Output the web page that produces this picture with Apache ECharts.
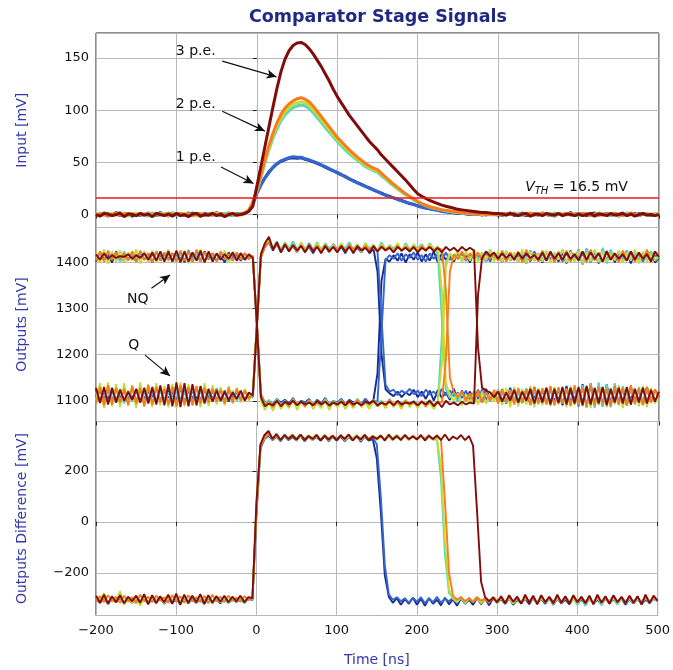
<!DOCTYPE html>
<html>
<head>
<meta charset="utf-8">
<title>Comparator Stage Signals</title>
<script src="https://cdn.jsdelivr.net/npm/echarts@6/dist/echarts.min.js"></script>
<style>
html, body { margin: 0; padding: 0; background: #fff; }
#chart { width: 673px; height: 670px; }
</style>
</head>
<body>
<div id="chart"></div>
<script>
// sample grid: -200 .. 500 ns every 5 ns (141 samples), one row = 100 ns
const T_START = -200, T_END = 500, T_STEP = 5;

// ---- input [mV] ----
// 1 p.e. (dark blue, blue)
const in1a = [
  0.5, -1, 1.5, 0, -0.5, 2, -1, 0.5, 1, -1.5, 0, 1, -0.5, 1.5, -1, 0, 2, -0.5, 0.5, -1,
  1, -0.5, 0, 1.5, -1, 0.5, -1.5, 1, 0, -0.5, 2, -1, 0.5, 0, -1, 1, 0.5, 1.5, 4, 11,
  21, 29, 35, 41, 45, 48.5, 51, 52.5, 54, 54.5, 54, 54.5, 53, 52, 50.5, 49, 47.5, 45.5, 43.5, 42,
  40, 38, 36.5, 34, 32.5, 30.5, 29, 27, 25.5, 23.5, 22, 20.5, 18.5, 17.5, 16, 14.5, 13.5, 12, 10.5, 9.5,
  8.5, 7.5, 6.5, 5.5, 5, 4, 3.5, 3, 2, 2, 1.5, 1, 1, 0.5, 0, 1, -0.5, 0.5, 0, 0.5,
  -0.5, 1, 0, 1.5, -1, 0.5, 0, -1, 1, 0.5, -0.5, 1.5, 0, -1, 0.5, 1, -0.5, 0, 2, -1,
  0, 1, -1, 0.5, 1.5, -0.5, 0, 1, -1, 0.5, 0, 1.5, -0.5, 0, 1, -1, 0.5, 0, -1, 0.5,
  0
];
const in1b = [
  -0.5, 1, 0, -1.5, 1, 0.5, -1, 1.5, -0.5, 0, 1, -1, 0.5, -0.5, 1.5, -1, 0, 1, -1.5, 0.5,
  0.5, 1, -1, 0, 1.5, -0.5, 0.5, -1, 1, 0, -0.5, 1, 0, 1.5, -1, 0.5, 0, 1, 3.5, 10,
  20, 28, 35, 40, 45.5, 49, 51.5, 53, 54.5, 55.5, 55, 55, 53.5, 52.5, 51, 49.5, 47.5, 46, 44, 42,
  40.5, 38.5, 36, 34.5, 32, 30.5, 28.5, 27, 25, 24, 22, 20, 19, 17, 16, 15, 13, 12, 11, 10,
  8, 7, 6, 5.5, 4.5, 4, 3, 2.5, 2.5, 1.5, 1, 1.5, 0.5, 0, 1, 0, 0.5, -0.5, 1, 0,
  0.5, -1, 1, 0, 0.5, -0.5, 1.5, 0, -1, 0.5, 1, -0.5, 0, 1, -1.5, 0.5, 0, 1, -0.5, 0.5,
  1, -0.5, 0.5, 0, -1, 1, 0.5, -0.5, 1, 0, -1.5, 0.5, 1, 0, -0.5, 1, 0, 0.5, -1, 0,
  0.5
];
// 2 p.e. (cyan, yellow-green, orange)
const in2a = [
  1, -0.5, 0, 1.5, -1, 0, 2, -0.5, 0.5, 1, -1, 0.5, 0, -1.5, 1, 0.5, -0.5, 1, 0, 2,
  -1, 0.5, 1, 0, -0.5, 1.5, 0, -1, 0.5, 1, 0, -0.5, 1, 0.5, -1, 0, 1, 1, 3.5, 11,
  22, 35, 49, 62, 73, 82, 90, 95.5, 99.5, 102.5, 104, 105, 104, 101.5, 97.5, 93, 88.5, 83.5, 79, 74.5,
  70, 66, 62, 58.5, 55, 52, 49, 46, 44, 42, 40.5, 37, 34, 30.5, 27.5, 24.5, 21.5, 19, 16.5, 14,
  12, 10, 8.5, 7, 6, 5, 4.5, 3.5, 3, 2.5, 2, 1.5, 2, 1, 0.5, 1, 0, 0.5, 1, -0.5,
  0, 1, -0.5, 0.5, 1.5, 0, -1, 0.5, 1, -0.5, 0, 1, 0.5, -1, 1.5, 0, 0.5, -0.5, 1, 0,
  -1, 0.5, 1, 0, -0.5, 1.5, 0, 0.5, -1, 1, 0, -0.5, 1.5, 0.5, 0, -1, 1, 0.5, -0.5, 1,
  0
];
const in2b = [
  0, 1.5, -1, 0.5, 1, -0.5, 0, 1, -1.5, 0.5, 1, 0, -1, 1.5, 0, -0.5, 1, 0.5, -1, 0,
  0.5, -1, 1, 0.5, 0, -1.5, 1, 0, 0.5, -0.5, 1.5, 0, -1, 1, 0, 0.5, -0.5, 1, 4, 11.5,
  23, 36.5, 51, 64, 75.5, 85, 92.5, 98.5, 102.5, 105.5, 107, 108, 107, 104.5, 100.5, 96, 91, 86, 81.5, 76.5,
  72, 68, 64, 60, 56.5, 53.5, 50.5, 47.5, 45, 43, 41.5, 38.5, 35, 31.5, 28, 25, 22, 19.5, 17, 14.5,
  12.5, 10.5, 9, 7.5, 6.5, 5.5, 4.5, 4, 3, 2.5, 2.5, 1.5, 1.5, 1, 0.5, 1, 0, 0.5, -0.5, 0.5,
  1, 0, -0.5, 1, 0.5, -1, 0, 1.5, 0, -0.5, 1, 0, 0.5, 1, -1, 0.5, 0, 1, -0.5, 0,
  0.5, 0, 1, -1, 0.5, 0, 1, -0.5, 0.5, 1.5, -1, 0, 0.5, 1, -0.5, 0, 1, -1, 0.5, 0,
  1
];
const in2c = [
  -0.5, 0.5, 1, -1, 0, 1.5, -0.5, 0, 1, 0.5, -1, 1, 0, 0.5, -1, 1, 0, -0.5, 1.5, 0,
  0, 1, -0.5, 0.5, -1, 1, 0.5, 0, -1, 1.5, 0, 0.5, -0.5, 0, 1, -1, 0.5, 1.5, 4, 12,
  24, 38, 53, 66, 78, 88, 96, 102, 106, 109, 111, 112, 110.5, 108, 104, 99, 94, 89, 84, 79,
  74, 70, 66, 62, 58.5, 55, 52, 49, 46.5, 44.5, 43, 39.5, 36, 32.5, 29, 26, 23, 20, 17.5, 15,
  12.5, 10.5, 9, 7.5, 6.5, 5.5, 4.5, 4, 3.5, 3, 2.5, 2, 1.5, 1.5, 1, 0.5, 1, 0, 0.5, 0,
  0.5, -0.5, 1, 0, 1, -1, 0.5, 0, 1.5, 0, -0.5, 1, 0.5, 0, -1, 1, 0, 0.5, 1, -0.5,
  0, 1, 0.5, -1, 0, 1, -0.5, 0.5, 0, 1, 0.5, -1, 0, 1.5, 0, -0.5, 1, 0, 0.5, -1,
  0.5
];
// 3 p.e. (dark red)
const in3 = [
  0, -1.5, 1, 0.5, -1, 0, 1.5, -2, 0.5, 0, -1, 1, -0.5, 0.5, -2, 1, 0, -1, 0.5, -1.5,
  1, -1, 0, -2, 0.5, 1, -1.5, 0, -0.5, 1, -1, 0.5, -2, 0, 1, -0.5, 0, 1, 3, 8,
  27, 46, 65, 84, 103, 121, 137, 149, 157, 162, 164.5, 165, 163, 159, 154, 148, 142, 135, 128, 120,
  113, 107, 101, 95, 90, 85, 80, 75, 70, 66, 62, 57, 53, 49, 45, 41, 37, 33, 28.5, 24,
  20, 17.5, 15.5, 13.5, 12, 10.5, 9, 8, 7, 6, 5, 4.5, 4, 3.5, 3, 2.5, 2, 2, 1.5, 1,
  1, 0.5, -0.5, 1, 0, -1, 0.5, 1, -1.5, 0, 0.5, -1, 1, 0, -0.5, 1, -1, 0.5, 0, -1,
  0.5, -1, 0, 1, -1.5, 0.5, 0, -1, 1, -0.5, 0, 1, -1, 0.5, -1.5, 0, 1, -0.5, 0, -1,
  0
];

// ---- outputs Q / NQ [mV] ----
const qD = [
  1126, 1098, 1122, 1102, 1128, 1096, 1124, 1100, 1120, 1104, 1126, 1098, 1122, 1102, 1124, 1096, 1128, 1100, 1122, 1104,
  1126, 1100, 1122, 1096, 1124, 1102, 1128, 1098, 1120, 1104, 1126, 1100, 1122, 1098, 1118, 1104, 1120, 1102, 1116, 1108,
  1262, 1412, 1434, 1444, 1426, 1440, 1422, 1438, 1426, 1436, 1422, 1440, 1424, 1434, 1420, 1438, 1424, 1436, 1422, 1438,
  1424, 1434, 1420, 1438, 1424, 1432, 1422, 1436, 1420, 1430, 1380, 1200, 1125, 1116, 1110, 1120, 1108, 1118, 1112, 1124,
  1108, 1120, 1104, 1122, 1100, 1124, 1106, 1118, 1102, 1126, 1098, 1122, 1104, 1120, 1100, 1124, 1096, 1126, 1102, 1120,
  1098, 1124, 1094, 1128, 1100, 1122, 1096, 1126, 1092, 1130, 1098, 1124, 1094, 1128, 1096, 1126, 1090, 1132, 1094, 1128,
  1088, 1136, 1086, 1138, 1090, 1134, 1088, 1136, 1092, 1130, 1094, 1128, 1090, 1132, 1096, 1126, 1092, 1130, 1098, 1124,
  1108
];
const nqD = [
  1402, 1422, 1406, 1418, 1400, 1424, 1404, 1420, 1408, 1416, 1402, 1422, 1406, 1420, 1400, 1424, 1404, 1418, 1408, 1420,
  1404, 1422, 1400, 1426, 1406, 1418, 1402, 1424, 1408, 1420, 1404, 1416, 1400, 1422, 1406, 1418, 1404, 1420, 1408, 1414,
  1266, 1114, 1096, 1100, 1092, 1104, 1096, 1102, 1094, 1106, 1092, 1100, 1096, 1104, 1090, 1102, 1094, 1106, 1092, 1100,
  1096, 1104, 1092, 1102, 1096, 1100, 1090, 1104, 1094, 1102, 1160, 1360, 1408, 1402, 1416, 1404, 1420, 1400, 1418, 1406,
  1422, 1402, 1418, 1404, 1424, 1400, 1420, 1406, 1416, 1402, 1422, 1404, 1418, 1400, 1424, 1406, 1420, 1402, 1416, 1408,
  1420, 1400, 1424, 1404, 1418, 1402, 1422, 1398, 1426, 1404, 1420, 1400, 1424, 1406, 1418, 1402, 1422, 1398, 1426, 1404,
  1428, 1396, 1430, 1400, 1424, 1398, 1428, 1402, 1426, 1400, 1422, 1404, 1426, 1398, 1424, 1402, 1420, 1406, 1424, 1400,
  1410
];
const qB = [
  1110, 1120, 1104, 1124, 1100, 1126, 1106, 1122, 1102, 1128, 1098, 1124, 1104, 1120, 1108, 1126, 1100, 1122, 1106, 1118,
  1102, 1126, 1098, 1122, 1104, 1128, 1100, 1124, 1106, 1120, 1102, 1126, 1098, 1122, 1106, 1118, 1104, 1122, 1108, 1116,
  1264, 1414, 1436, 1446, 1430, 1442, 1426, 1440, 1424, 1444, 1428, 1438, 1424, 1442, 1426, 1440, 1428, 1436, 1424, 1440,
  1428, 1436, 1426, 1440, 1424, 1438, 1428, 1436, 1426, 1432, 1424, 1280, 1135, 1120, 1124, 1112, 1122, 1116, 1126, 1114,
  1122, 1110, 1124, 1114, 1120, 1108, 1126, 1112, 1122, 1110, 1118, 1106, 1122, 1100, 1120, 1104, 1124, 1102, 1118, 1106,
  1124, 1100, 1120, 1104, 1126, 1098, 1122, 1102, 1118, 1106, 1124, 1100, 1128, 1096, 1122, 1102, 1126, 1098, 1120, 1104,
  1126, 1096, 1130, 1094, 1124, 1100, 1128, 1096, 1122, 1102, 1126, 1098, 1120, 1104, 1124, 1100, 1128, 1096, 1122, 1102,
  1110
];
const nqB = [
  1416, 1406, 1420, 1404, 1418, 1408, 1414, 1402, 1420, 1406, 1416, 1410, 1422, 1404, 1418, 1406, 1414, 1408, 1420, 1404,
  1418, 1408, 1422, 1402, 1416, 1406, 1420, 1404, 1414, 1410, 1418, 1406, 1422, 1404, 1416, 1408, 1420, 1406, 1414, 1410,
  1270, 1110, 1092, 1100, 1090, 1102, 1094, 1098, 1090, 1104, 1092, 1100, 1096, 1098, 1090, 1102, 1094, 1100, 1092, 1098,
  1094, 1102, 1090, 1100, 1092, 1098, 1094, 1104, 1090, 1100, 1098, 1250, 1405, 1416, 1408, 1420, 1404, 1418, 1410, 1422,
  1406, 1416, 1402, 1420, 1408, 1418, 1404, 1422, 1406, 1416, 1408, 1420, 1404, 1418, 1410, 1414, 1406, 1422, 1402, 1418,
  1408, 1420, 1404, 1422, 1406, 1416, 1410, 1418, 1402, 1424, 1406, 1420, 1404, 1418, 1408, 1422, 1402, 1420, 1406, 1416,
  1410, 1418, 1404, 1422, 1408, 1420, 1402, 1424, 1406, 1418, 1410, 1416, 1404, 1422, 1408, 1418, 1402, 1420, 1406, 1416,
  1412
];
const qC = [
  1118, 1100, 1124, 1096, 1120, 1102, 1126, 1094, 1122, 1098, 1124, 1100, 1120, 1096, 1126, 1098, 1122, 1100, 1118, 1104,
  1124, 1098, 1120, 1102, 1126, 1096, 1122, 1100, 1118, 1104, 1124, 1098, 1120, 1102, 1122, 1100, 1118, 1104, 1114, 1110,
  1266, 1416, 1438, 1450, 1432, 1446, 1428, 1444, 1430, 1446, 1426, 1442, 1430, 1440, 1428, 1444, 1426, 1442, 1430, 1438,
  1426, 1440, 1430, 1444, 1428, 1440, 1424, 1442, 1430, 1438, 1426, 1444, 1428, 1438, 1430, 1440, 1424, 1442, 1428, 1438,
  1430, 1440, 1426, 1442, 1428, 1420, 1280, 1125, 1106, 1118, 1098, 1120, 1100, 1116, 1096, 1118, 1102, 1120, 1098, 1116,
  1100, 1120, 1096, 1124, 1102, 1118, 1094, 1126, 1098, 1122, 1092, 1128, 1096, 1124, 1090, 1130, 1094, 1126, 1092, 1128,
  1090, 1134, 1086, 1138, 1084, 1140, 1088, 1136, 1086, 1138, 1090, 1132, 1094, 1128, 1092, 1130, 1096, 1124, 1098, 1122,
  1104
];
const nqC = [
  1410, 1418, 1404, 1422, 1408, 1420, 1402, 1424, 1406, 1418, 1404, 1422, 1408, 1416, 1402, 1424, 1406, 1420, 1404, 1418,
  1408, 1420, 1404, 1424, 1406, 1418, 1402, 1422, 1408, 1416, 1404, 1420, 1406, 1418, 1404, 1422, 1408, 1416, 1410, 1414,
  1268, 1112, 1094, 1102, 1088, 1104, 1092, 1100, 1090, 1104, 1094, 1098, 1090, 1102, 1094, 1100, 1088, 1104, 1092, 1100,
  1094, 1102, 1090, 1100, 1094, 1104, 1092, 1098, 1090, 1102, 1094, 1100, 1088, 1104, 1092, 1098, 1094, 1102, 1090, 1100,
  1092, 1098, 1094, 1102, 1090, 1098, 1240, 1400, 1418, 1408, 1424, 1404, 1420, 1410, 1426, 1406, 1422, 1402, 1428, 1408,
  1420, 1404, 1424, 1408, 1418, 1402, 1422, 1406, 1426, 1404, 1420, 1408, 1424, 1402, 1418, 1406, 1428, 1400, 1422, 1406,
  1428, 1398, 1430, 1400, 1426, 1402, 1432, 1398, 1428, 1404, 1424, 1400, 1426, 1406, 1422, 1402, 1420, 1408, 1424, 1404,
  1412
];
const qY = [
  1100, 1138, 1084, 1140, 1088, 1136, 1086, 1138, 1090, 1134, 1084, 1140, 1088, 1136, 1086, 1138, 1090, 1132, 1086, 1136,
  1084, 1140, 1088, 1136, 1090, 1132, 1086, 1138, 1088, 1134, 1092, 1130, 1090, 1132, 1094, 1128, 1096, 1126, 1100, 1120,
  1270, 1420, 1440, 1448, 1428, 1444, 1424, 1442, 1426, 1440, 1422, 1444, 1426, 1438, 1424, 1442, 1426, 1440, 1422, 1438,
  1426, 1442, 1424, 1438, 1428, 1440, 1422, 1442, 1426, 1438, 1424, 1440, 1428, 1436, 1424, 1442, 1426, 1438, 1422, 1440,
  1426, 1438, 1424, 1440, 1428, 1436, 1340, 1140, 1112, 1100, 1116, 1090, 1114, 1096, 1118, 1092, 1120, 1094, 1116, 1098,
  1124, 1090, 1128, 1086, 1130, 1088, 1126, 1092, 1132, 1086, 1128, 1090, 1126, 1088, 1130, 1092, 1124, 1086, 1132, 1090,
  1128, 1088, 1132, 1084, 1126, 1090, 1130, 1086, 1128, 1092, 1134, 1084, 1128, 1090, 1126, 1088, 1132, 1086, 1128, 1094,
  1118
];
const nqY = [
  1420, 1400, 1428, 1398, 1424, 1402, 1426, 1400, 1422, 1404, 1428, 1398, 1424, 1402, 1426, 1400, 1422, 1406, 1428, 1400,
  1424, 1402, 1426, 1398, 1422, 1404, 1428, 1400, 1424, 1402, 1420, 1406, 1426, 1400, 1424, 1404, 1420, 1406, 1418, 1410,
  1262, 1100, 1080, 1096, 1078, 1100, 1082, 1098, 1084, 1102, 1080, 1098, 1086, 1100, 1082, 1096, 1084, 1102, 1080, 1098,
  1086, 1100, 1082, 1098, 1084, 1102, 1086, 1096, 1082, 1100, 1088, 1098, 1084, 1100, 1086, 1096, 1082, 1102, 1086, 1098,
  1084, 1100, 1086, 1096, 1082, 1100, 1180, 1390, 1420, 1406, 1426, 1402, 1424, 1404, 1428, 1400, 1422, 1406, 1426, 1402,
  1424, 1400, 1426, 1404, 1422, 1402, 1428, 1398, 1424, 1404, 1420, 1402, 1426, 1400, 1422, 1406, 1428, 1400, 1424, 1402,
  1426, 1398, 1422, 1404, 1428, 1400, 1424, 1402, 1420, 1406, 1426, 1400, 1422, 1404, 1428, 1398, 1424, 1402, 1420, 1406,
  1416
];
const qO = [
  1094, 1130, 1090, 1134, 1092, 1128, 1096, 1126, 1090, 1132, 1094, 1128, 1088, 1134, 1092, 1130, 1096, 1126, 1092, 1130,
  1088, 1134, 1092, 1130, 1090, 1132, 1094, 1128, 1096, 1126, 1098, 1124, 1094, 1128, 1096, 1126, 1100, 1122, 1104, 1114,
  1258, 1410, 1436, 1444, 1430, 1440, 1426, 1438, 1428, 1436, 1424, 1438, 1426, 1434, 1428, 1436, 1424, 1438, 1426, 1434,
  1428, 1436, 1424, 1438, 1428, 1434, 1426, 1436, 1428, 1432, 1424, 1436, 1428, 1434, 1424, 1436, 1426, 1434, 1428, 1432,
  1424, 1436, 1428, 1434, 1426, 1432, 1428, 1340, 1150, 1118, 1108, 1120, 1100, 1116, 1098, 1122, 1096, 1118, 1100, 1124,
  1094, 1126, 1098, 1122, 1092, 1128, 1096, 1124, 1090, 1130, 1094, 1126, 1092, 1132, 1090, 1128, 1094, 1126, 1088, 1134,
  1092, 1128, 1088, 1134, 1090, 1130, 1094, 1126, 1088, 1132, 1092, 1128, 1090, 1134, 1094, 1126, 1090, 1130, 1096, 1124,
  1106
];
const nqO = [
  1404, 1424, 1402, 1426, 1406, 1422, 1408, 1420, 1404, 1424, 1402, 1426, 1406, 1420, 1400, 1424, 1404, 1422, 1406, 1420,
  1402, 1426, 1404, 1424, 1400, 1428, 1404, 1422, 1406, 1420, 1402, 1424, 1408, 1418, 1404, 1422, 1406, 1420, 1408, 1414,
  1272, 1115, 1090, 1098, 1086, 1100, 1090, 1096, 1088, 1102, 1092, 1098, 1088, 1100, 1090, 1096, 1092, 1100, 1088, 1098,
  1090, 1100, 1092, 1096, 1088, 1102, 1090, 1098, 1092, 1100, 1088, 1096, 1090, 1102, 1092, 1098, 1088, 1100, 1092, 1096,
  1090, 1100, 1088, 1098, 1092, 1096, 1096, 1190, 1380, 1418, 1408, 1424, 1406, 1420, 1410, 1422, 1404, 1424, 1408, 1420,
  1404, 1426, 1402, 1422, 1406, 1424, 1400, 1428, 1404, 1420, 1402, 1426, 1406, 1422, 1400, 1424, 1404, 1426, 1402, 1420,
  1406, 1424, 1400, 1428, 1404, 1422, 1402, 1426, 1406, 1420, 1400, 1426, 1404, 1424, 1402, 1422, 1406, 1428, 1400, 1424,
  1414
];
const qR = [
  1128, 1095, 1130, 1092, 1126, 1098, 1124, 1100, 1120, 1102, 1125, 1096, 1128, 1094, 1130, 1092, 1133, 1090, 1136, 1088,
  1140, 1086, 1138, 1088, 1136, 1090, 1132, 1094, 1126, 1098, 1122, 1100, 1120, 1102, 1118, 1104, 1122, 1100, 1118, 1112,
  1262, 1418, 1442, 1456, 1428, 1444, 1422, 1440, 1424, 1438, 1426, 1436, 1422, 1438, 1424, 1434, 1420, 1436, 1424, 1434,
  1422, 1436, 1424, 1434, 1420, 1436, 1426, 1432, 1422, 1436, 1424, 1434, 1426, 1432, 1422, 1434, 1426, 1432, 1424, 1434,
  1422, 1432, 1426, 1434, 1424, 1432, 1422, 1434, 1426, 1432, 1424, 1434, 1426, 1432, 1426, 1215, 1128, 1122, 1118, 1108,
  1120, 1098, 1118, 1100, 1124, 1096, 1120, 1100, 1126, 1094, 1124, 1096, 1128, 1092, 1126, 1095, 1130, 1092, 1128, 1094,
  1130, 1090, 1132, 1092, 1128, 1094, 1130, 1090, 1126, 1096, 1128, 1094, 1130, 1092, 1126, 1096, 1128, 1094, 1124, 1098,
  1120
];
const nqR = [
  1418, 1406, 1420, 1408, 1416, 1410, 1414, 1412, 1418, 1408, 1416, 1410, 1420, 1406, 1422, 1404, 1424, 1402, 1424, 1402,
  1426, 1400, 1424, 1402, 1422, 1404, 1426, 1400, 1424, 1402, 1420, 1406, 1418, 1408, 1422, 1404, 1420, 1406, 1418, 1410,
  1265, 1108, 1088, 1094, 1090, 1100, 1088, 1098, 1092, 1100, 1090, 1098, 1092, 1096, 1090, 1100, 1092, 1098, 1090, 1096,
  1092, 1098, 1090, 1100, 1092, 1096, 1090, 1098, 1094, 1100, 1090, 1096, 1092, 1098, 1090, 1100, 1092, 1096, 1094, 1098,
  1090, 1098, 1092, 1100, 1088, 1098, 1086, 1100, 1092, 1096, 1090, 1098, 1092, 1096, 1094, 1330, 1410, 1424, 1414, 1422,
  1408, 1420, 1410, 1418, 1406, 1422, 1408, 1420, 1410, 1416, 1406, 1422, 1404, 1424, 1408, 1420, 1406, 1422, 1408, 1418,
  1404, 1424, 1406, 1422, 1408, 1420, 1402, 1424, 1406, 1420, 1408, 1418, 1404, 1424, 1406, 1422, 1408, 1418, 1402, 1424,
  1412
];

// ---- outputs difference [mV] ----
const dD = [
  -306, -318, -300, -322, -304, -316, -298, -320, -302, -318, -306, -314, -300, -320, -304, -316, -298, -322, -302, -318,
  -304, -320, -300, -316, -306, -318, -302, -322, -298, -316, -304, -320, -300, -318, -306, -314, -302, -318, -300, -308,
  30, 290, 326, 340, 322, 336, 318, 338, 322, 334, 320, 338, 318, 336, 322, 334, 320, 338, 318, 336,
  320, 336, 318, 334, 322, 338, 316, 336, 320, 326, 250, 40, -210, -295, -318, -300, -326, -304, -322, -298,
  -326, -302, -330, -300, -322, -306, -328, -298, -324, -304, -330, -300, -322, -306, -326, -298, -324, -302, -328, -300,
  -318, -304, -322, -300, -326, -306, -320, -302, -324, -298, -318, -304, -322, -300, -326, -302, -320, -306, -324, -300,
  -322, -304, -326, -300, -320, -306, -324, -302, -318, -304, -322, -300, -326, -304, -320, -302, -324, -306, -318, -302,
  -312
];
const dB = [
  -300, -312, -296, -316, -302, -310, -298, -318, -300, -314, -296, -312, -302, -316, -298, -310, -300, -318, -296, -312,
  -298, -316, -302, -312, -296, -318, -300, -310, -298, -316, -302, -314, -296, -312, -300, -316, -298, -310, -302, -304,
  50, 296, 328, 344, 326, 338, 322, 340, 324, 336, 326, 342, 320, 338, 324, 340, 322, 336, 326, 338,
  322, 340, 324, 336, 326, 338, 320, 342, 324, 332, 305, 100, -170, -285, -306, -296, -312, -300, -318, -298,
  -314, -296, -320, -300, -316, -294, -318, -302, -312, -298, -320, -296, -316, -300, -314, -298, -318, -302, -312, -300,
  -316, -298, -320, -302, -314, -296, -318, -300, -312, -298, -316, -302, -320, -296, -314, -300, -318, -298, -312, -302,
  -318, -296, -314, -300, -320, -298, -316, -302, -312, -296, -318, -300, -314, -298, -320, -302, -316, -296, -314, -300,
  -308
];
const dC = [
  -304, -318, -298, -320, -302, -316, -296, -322, -300, -318, -304, -314, -298, -320, -302, -316, -296, -318, -300, -314,
  -302, -316, -298, -320, -304, -314, -300, -318, -296, -322, -302, -316, -298, -318, -304, -312, -300, -316, -302, -306,
  60, 298, 330, 346, 328, 340, 322, 344, 326, 338, 330, 342, 324, 340, 328, 336, 326, 342, 322, 338,
  328, 342, 324, 338, 330, 340, 322, 344, 326, 338, 328, 340, 324, 336, 330, 342, 326, 338, 322, 340,
  326, 338, 328, 342, 324, 325, 170, -130, -280, -300, -316, -298, -320, -302, -314, -296, -318, -304, -312, -300,
  -320, -300, -316, -298, -322, -302, -318, -296, -314, -304, -320, -298, -316, -302, -324, -296, -318, -300, -314, -302,
  -326, -296, -330, -292, -324, -298, -328, -294, -322, -300, -326, -296, -320, -302, -318, -298, -322, -300, -316, -304,
  -312
];
const dY = [
  -296, -312, -280, -322, -300, -314, -272, -326, -298, -318, -292, -330, -296, -316, -300, -312, -294, -320, -298, -314,
  -292, -318, -296, -322, -290, -316, -298, -312, -294, -320, -292, -316, -300, -310, -296, -314, -298, -310, -296, -302,
  70, 300, 332, 350, 324, 340, 322, 338, 326, 342, 320, 336, 326, 340, 322, 338, 324, 342, 322, 336,
  324, 340, 322, 336, 326, 342, 320, 338, 324, 340, 322, 338, 326, 336, 320, 342, 324, 338, 322, 340,
  324, 338, 322, 340, 326, 330, 220, -80, -265, -302, -314, -296, -318, -300, -312, -296, -320, -298, -314, -300,
  -318, -298, -314, -302, -320, -296, -316, -300, -312, -298, -318, -302, -314, -296, -320, -300, -316, -298, -312, -304,
  -318, -296, -314, -300, -320, -298, -316, -302, -312, -296, -318, -300, -314, -298, -316, -302, -320, -296, -314, -300,
  -308
];
const dO = [
  -310, -292, -316, -288, -312, -294, -318, -290, -314, -296, -320, -286, -312, -294, -316, -290, -310, -296, -318, -288,
  -314, -292, -318, -288, -312, -296, -316, -290, -320, -286, -312, -294, -316, -290, -310, -298, -314, -292, -308, -298,
  40, 295, 335, 348, 330, 342, 326, 338, 330, 344, 324, 340, 328, 336, 330, 342, 324, 338, 328, 340,
  326, 338, 330, 342, 324, 336, 328, 340, 326, 338, 330, 336, 324, 340, 328, 334, 326, 342, 324, 338,
  328, 336, 326, 340, 324, 338, 325, 80, -200, -290, -306, -296, -312, -300, -316, -296, -310, -302, -318, -294,
  -312, -298, -318, -294, -314, -300, -320, -292, -316, -298, -322, -290, -314, -300, -318, -294, -316, -298, -320, -292,
  -314, -298, -318, -294, -322, -290, -316, -300, -320, -292, -314, -298, -318, -294, -316, -296, -320, -292, -314, -300,
  -306
];
const dR = [
  -290, -318, -286, -322, -292, -316, -288, -320, -294, -312, -290, -318, -284, -324, -288, -320, -292, -316, -286, -322,
  -282, -326, -286, -320, -290, -316, -284, -322, -288, -318, -292, -314, -290, -316, -294, -312, -290, -316, -296, -300,
  80, 305, 342, 358, 326, 346, 322, 342, 326, 340, 324, 344, 322, 338, 326, 342, 320, 340, 324, 338,
  322, 340, 326, 344, 320, 338, 324, 342, 322, 336, 326, 340, 320, 344, 324, 338, 322, 342, 326, 336,
  324, 342, 320, 338, 326, 340, 322, 344, 320, 336, 326, 342, 322, 338, 300, 40, -235, -296, -312, -298,
  -316, -292, -320, -288, -314, -294, -322, -286, -318, -290, -324, -288, -316, -294, -320, -286, -318, -292, -322, -288,
  -316, -294, -320, -290, -324, -286, -318, -292, -322, -288, -316, -294, -320, -290, -318, -292, -324, -286, -320, -290,
  -310
];

// ---- annotations ----
const VTH = 16.5;
const peLabels = ['3 p.e.', '2 p.e.', '1 p.e.'];
const peLabelAt = [[-76, 156], [-76, 106], [-76, 55]];
const peArrows = [[[-43, 147], [24.4, 132]], [[-43, 99], [10, 80]], [[-44.6, 45.6], [-4.2, 29.8]]];
const outLabels = ['NQ', 'Q'];
const outLabelAt = [[-148, 1321], [-153, 1221]];
const outArrows = [[[-131, 1344], [-108, 1373]], [[-139, 1199], [-108, 1154]]];

const TRACE_COLORS = ['#1c2a8e', '#3466d0', '#55d3c4', '#c2df30', '#fb7a1c', '#800c0c'];
const FONT = 'DejaVu Sans';
const LABEL_BLUE = '#3438a8';

const times = [];
for (let t = T_START; t <= T_END; t += T_STEP) times.push(t);

const inputTraces = [in1a, in1b, in2a, in2b, in2c, in3];
const qTraces = [qD, qB, qC, qY, qO, qR];
const nqTraces = [nqD, nqB, nqC, nqY, nqO, nqR];
const diffTraces = [dD, dB, dC, dY, dO, dR];

// length sanity check, shown on the chart if something is off
const bad = [];
[['in', inputTraces], ['q', qTraces], ['nq', nqTraces], ['d', diffTraces]].forEach(([n, list]) => {
  list.forEach((a, i) => { if (a.length !== times.length) bad.push(n + i + ':' + a.length) })
});

const pts = vals => vals.map((v, i) => [times[i], v]);
const minus = v => String(v).replace('-', '\u2212');

const grids = [
  { left: 96, width: 563, top: 33, height: 194.5 },
  { left: 96, width: 563, top: 227.5, height: 194 },
  { left: 96, width: 563, top: 421.5, height: 194 }
].map(g => Object.assign(g, { show: true, borderColor: '#1a1a1a', borderWidth: 1, backgroundColor: 'transparent' }));

const yRanges = [[-12.4, 174, 50], [1055, 1476, 100], [-368, 395, 200]];
const yNames = ['Input [mV]', 'Outputs [mV]', 'Outputs Difference [mV]'];

const xAxes = [0, 1, 2].map(i => ({
  type: 'value', gridIndex: i, min: T_START, max: T_END, interval: 100,
  axisLine: { show: false },
  axisTick: { show: true, length: 4, lineStyle: { color: '#222' } },
  axisLabel: {
    show: i === 2, margin: 9, color: '#111', fontSize: 13, fontFamily: FONT,
    showMinLabel: true, showMaxLabel: true, formatter: minus
  },
  splitLine: { show: true, lineStyle: { color: '#b8b8b8', width: 1 } },
  name: i === 2 ? 'Time [ns]' : '', nameLocation: 'middle', nameGap: 38,
  nameTextStyle: { color: LABEL_BLUE, fontSize: 14, fontFamily: FONT }
}));

const yAxes = [0, 1, 2].map(i => ({
  type: 'value', gridIndex: i, min: yRanges[i][0], max: yRanges[i][1],
  minInterval: yRanges[i][2], maxInterval: yRanges[i][2],
  axisLine: { show: false },
  axisTick: { show: true, length: 4, lineStyle: { color: '#222' } },
  axisLabel: {
    margin: 7, color: '#111', fontSize: 13, fontFamily: FONT,
    showMinLabel: false, showMaxLabel: false, formatter: minus
  },
  splitLine: { show: true, lineStyle: { color: '#b8b8b8', width: 1 } },
  name: yNames[i], nameLocation: 'middle', nameGap: 67,
  nameTextStyle: { color: LABEL_BLUE, fontSize: 14, fontFamily: FONT }
}));

const arrowLines = list => list.map(([a, b]) => [
  { coord: a, symbol: 'none' },
  { coord: b, symbol: 'arrow', symbolSize: [7, 10] }
]);
const textPoints = (names, where) => names.map((n, i) => ({ name: n, coord: where[i] }));

const textLabel = { show: true, position: 'inside', color: '#111', fontSize: 14, fontFamily: FONT, formatter: p => p.name };

const series = [];
const base = { type: 'line', showSymbol: false, symbol: 'none', animation: false, silent: true };

inputTraces.forEach((vals, i) => {
  const s = Object.assign({}, base, {
    name: 'in' + i, xAxisIndex: 0, yAxisIndex: 0, data: pts(vals),
    lineStyle: { color: TRACE_COLORS[i], width: 3 }, itemStyle: { color: TRACE_COLORS[i] }
  });
  if (i === inputTraces.length - 1) {
    s.markLine = {
      silent: true, animation: false, label: { show: false },
      symbol: ['none', 'none'],
      lineStyle: { color: '#111', width: 1.2, type: 'solid' },
      data: [
        { yAxis: VTH, lineStyle: { color: '#f01a1a', width: 1.6, type: 'solid' } }
      ].concat(arrowLines(peArrows))
    };
    s.markPoint = {
      silent: true, animation: false, symbol: 'circle', symbolSize: 1,
      itemStyle: { color: 'rgba(0,0,0,0)' },
      label: textLabel,
      data: textPoints(peLabels, peLabelAt).concat([{
        name: 'vth', coord: [333, 26.5],
        label: {
          show: true, position: 'right', distance: 0,
          formatter: '{v|V}{s|TH}{n| = ' + VTH + ' mV}',
          rich: {
            v: { fontStyle: 'italic', fontSize: 14, color: '#111', fontFamily: FONT },
            s: { fontStyle: 'italic', fontSize: 10, color: '#111', fontFamily: FONT, padding: [8, 0, 0, 0] },
            n: { fontSize: 14, color: '#111', fontFamily: FONT }
          }
        }
      }])
    };
  }
  series.push(s);
});

qTraces.forEach((vals, i) => {
  [vals, nqTraces[i]].forEach((v, k) => {
    const s = Object.assign({}, base, {
      name: (k ? 'nq' : 'q') + i, xAxisIndex: 1, yAxisIndex: 1, data: pts(v),
      lineStyle: { color: TRACE_COLORS[i], width: 1.9 }, itemStyle: { color: TRACE_COLORS[i] }
    });
    if (i === qTraces.length - 1 && k === 1) {
      s.markLine = {
        silent: true, animation: false, label: { show: false },
        symbol: ['none', 'none'],
        lineStyle: { color: '#111', width: 1.2, type: 'solid' },
        data: arrowLines(outArrows)
      };
      s.markPoint = {
        silent: true, animation: false, symbol: 'circle', symbolSize: 1,
        itemStyle: { color: 'rgba(0,0,0,0)' },
        label: textLabel,
        data: textPoints(outLabels, outLabelAt)
      };
    }
    series.push(s);
  });
});

diffTraces.forEach((vals, i) => {
  series.push(Object.assign({}, base, {
    name: 'd' + i, xAxisIndex: 2, yAxisIndex: 2, data: pts(vals),
    lineStyle: { color: TRACE_COLORS[i], width: 1.9 }, itemStyle: { color: TRACE_COLORS[i] }
  }));
});

const graphic = [{
  type: 'text', x: 378, y: 17,
  style: {
    text: 'Comparator Stage Signals', fill: '#1f2980', font: 'bold 17.5px "DejaVu Sans"',
    textAlign: 'center', textVerticalAlign: 'middle'
  }
}];
if (bad.length) {
  graphic.push({ type: 'text', x: 110, y: 60, style: { text: 'LEN ' + bad.join(' '), fill: 'red', font: '12px sans-serif' } });
}

const chart = echarts.init(document.getElementById('chart'), null, { renderer: 'canvas' });
chart.setOption({
  animation: false,
  backgroundColor: '#fff',
  textStyle: { fontFamily: FONT },
  grid: grids,
  xAxis: xAxes,
  yAxis: yAxes,
  series: series,
  graphic: graphic
});
</script>
</body>
</html>
